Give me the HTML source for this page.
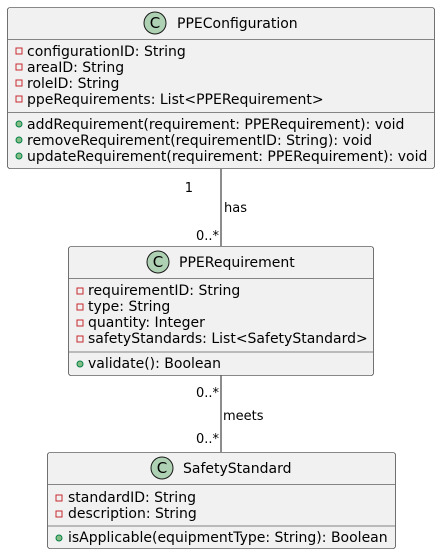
<!DOCTYPE html>
<html><head><meta charset="utf-8"><style>
html,body{margin:0;padding:0;background:#fff}
text{font-family:"DejaVu Sans","Liberation Sans",sans-serif;font-size:14px;fill:#000}
.s{font-size:13px}
</style></head><body>
<svg width="441" height="555" viewBox="0 0 441 555" xmlns="http://www.w3.org/2000/svg">
<defs>
<g id="priv"><rect x="-3" y="-3" width="6" height="6" fill="none" stroke="#C82930" stroke-width="1"/></g>
<g id="pub"><circle r="3" fill="#84BE84" stroke="#038048" stroke-width="1"/></g>
</defs>
<line x1="221" y1="169" x2="221" y2="246" stroke="#181818"/>
<line x1="221" y1="375" x2="221" y2="452" stroke="#181818"/>
<text class="s" x="193" y="192" text-anchor="end">1</text>
<text class="s" x="224" y="212">has</text>
<text class="s" x="219" y="240" text-anchor="end">0..*</text>
<text class="s" x="219" y="397" text-anchor="end">0..*</text>
<text class="s" x="223" y="420">meets</text>
<text class="s" x="219" y="443" text-anchor="end">0..*</text>

<rect x="7.5" y="7.5" width="427" height="161" rx="2.5" fill="#F1F1F1" stroke="#181818" stroke-width="0.6"/>
<line x1="8" y1="39.5" x2="434" y2="39.5" stroke="#181818" stroke-width="0.6"/>
<line x1="8" y1="112.5" x2="434" y2="112.5" stroke="#181818" stroke-width="0.6"/>
<circle cx="155" cy="23" r="11" fill="#ADD1B2" stroke="#181818" stroke-width="1"/>
<text x="155" y="28" text-anchor="middle" style="font-size:15px">C</text>
<text x="177" y="28">PPEConfiguration</text>
<use href="#priv" x="19" y="51"/><text x="27" y="56">configurationID: String</text>
<use href="#priv" x="19" y="67"/><text x="27" y="72">areaID: String</text>
<use href="#priv" x="19" y="83"/><text x="27" y="88">roleID: String</text>
<use href="#priv" x="19" y="99"/><text x="27" y="104">ppeRequirements: List&lt;PPERequirement&gt;</text>
<use href="#pub" x="19" y="124"/><text x="27" y="129">addRequirement(requirement: PPERequirement): void</text>
<use href="#pub" x="19" y="140"/><text x="27" y="145">removeRequirement(requirementID: String): void</text>
<use href="#pub" x="19" y="156"/><text x="27" y="161">updateRequirement(requirement: PPERequirement): void</text>

<rect x="68.5" y="246.5" width="305" height="129" rx="2.5" fill="#F1F1F1" stroke="#181818" stroke-width="0.6"/>
<line x1="69" y1="278.5" x2="373" y2="278.5" stroke="#181818" stroke-width="0.6"/>
<line x1="69" y1="352" x2="373" y2="352" stroke="#181818" stroke-width="0.6"/>
<circle cx="158" cy="262" r="11" fill="#ADD1B2" stroke="#181818" stroke-width="1"/>
<text x="158" y="267" text-anchor="middle" style="font-size:15px">C</text>
<text x="179" y="267">PPERequirement</text>
<use href="#priv" x="80" y="291"/><text x="88" y="295">requirementID: String</text>
<use href="#priv" x="80" y="307"/><text x="88" y="311">type: String</text>
<use href="#priv" x="80" y="323"/><text x="88" y="327">quantity: Integer</text>
<use href="#priv" x="80" y="339"/><text x="88" y="343">safetyStandards: List&lt;SafetyStandard&gt;</text>
<use href="#pub" x="80" y="364"/><text x="88" y="368">validate(): Boolean</text>

<rect x="47.5" y="452.5" width="348" height="96" rx="2.5" fill="#F1F1F1" stroke="#181818" stroke-width="0.6"/>
<line x1="48" y1="484.5" x2="395" y2="484.5" stroke="#181818" stroke-width="0.6"/>
<line x1="48" y1="526" x2="395" y2="526" stroke="#181818" stroke-width="0.6"/>
<circle cx="162" cy="468" r="11" fill="#ADD1B2" stroke="#181818" stroke-width="1"/>
<text x="162" y="473" text-anchor="middle" style="font-size:15px">C</text>
<text x="183" y="473">SafetyStandard</text>
<use href="#priv" x="59" y="498"/><text x="68" y="502">standardID: String</text>
<use href="#priv" x="59" y="514"/><text x="68" y="518">description: String</text>
<use href="#pub" x="59" y="538"/><text x="68" y="542">isApplicable(equipmentType: String): Boolean</text>
</svg>
</body></html>
